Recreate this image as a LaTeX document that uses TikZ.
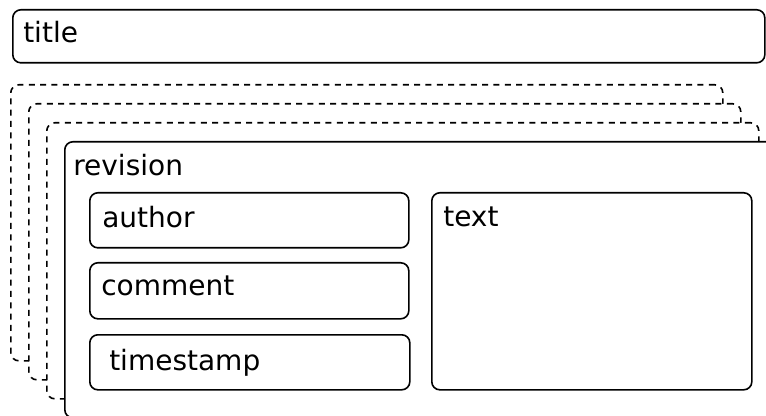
\documentclass[tikz,border=0pt]{standalone}
\usepackage{fontspec}
\setmainfont{DejaVu Sans}
\usetikzlibrary{positioning}
\tikzset{
  box/.style={draw, rounded corners=6pt, line width=1.2pt, anchor=north west, inner sep=0pt, fill=white},
  stackframe/.style={box, dash pattern=on 4.5pt off 4pt},
  dims/.style 2 args={minimum width=#1*0.75pt, minimum height=#2*0.75pt},
  lbl/.style={anchor=base west, inner sep=0pt, font=\fontsize{21}{25}\selectfont},
}
\begin{document}
\begin{tikzpicture}[x=0.75pt,y=-0.75pt]
            \clip (0,0) rectangle (766,416);
            \useasboundingbox (0,0) rectangle (766,416);
            % title bar
            \node[box,dims={752}{53}] (titlebox) at (12,9) {};
            \node[lbl] (title) at ([shift={(11,34)}]titlebox.north west) {title};
            % older revisions behind
            \foreach \i in {0,1,2}{
                \node[stackframe,dims={712}{276}] (old\i) at ({10+18*\i},{84+19*\i}) {};
            }
            \node[box,dims={712}{276}] (revbox) at (64,141) {};
            \node[lbl] (revision) at ([shift={(9,35)}]revbox.north west) {revision};
            % fields
            \node[box,dims={319}{55}] (authorbox) at (89,192) {};
            \node[lbl] (author) at ([shift={(13,36)}]authorbox.north west) {author};
            \node[box,dims={319}{56}] (commentbox) at (89,262) {};
            \node[lbl] (comment) at ([shift={(12,34)}]commentbox.north west) {comment};
            \node[box,dims={320}{55}] (timestampbox) at (89,334) {};
            \node[lbl] (timestamp) at ([shift={(20,36)}]timestampbox.north west) {timestamp};
            \node[box,dims={320}{197}] (textbox) at (431,192) {};
            \node[lbl] (text) at ([shift={(12,35)}]textbox.north west) {text};
\end{tikzpicture}
\end{document}
